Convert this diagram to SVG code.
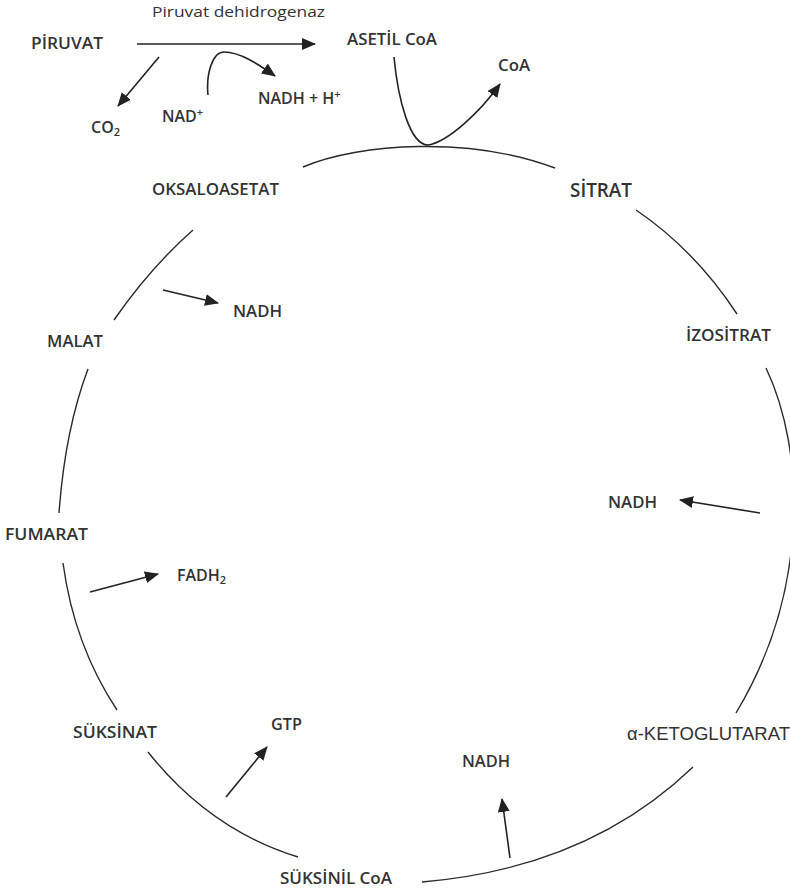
<svg xmlns="http://www.w3.org/2000/svg" width="790" height="890" viewBox="0 0 790 890">
<defs>
<marker id="ah" markerUnits="userSpaceOnUse" markerWidth="14" markerHeight="12" viewBox="0 0 14 12" refX="13" refY="6" orient="auto">
<path d="M0,0 L14,6 L0,12 z" fill="#222"/>
</marker>
<style>
.lbl{font-family:"Open Sans","Noto Sans","Liberation Sans",sans-serif;font-weight:600;font-size:16px;fill:#333}
.lg{font-size:19px}
.sm{font-size:15px;font-weight:400}
.ar{font-family:"Liberation Sans",Arial,sans-serif;font-weight:400;font-size:18px;fill:#333}
.cyc{fill:none;stroke:#2a2a2a;stroke-width:1.4}
.arr{fill:none;stroke:#222;stroke-width:1.6;marker-end:url(#ah)}
</style>
</defs>
<rect width="790" height="890" fill="#fff"/>
<g id="connectors">
<path class="arr" d="M137,44 L315,44"/>
<path class="arr" d="M159,57 L118,106"/>
<path class="arr" d="M208,95 C206,75 212,52 224,52 C240,52 258,64 275,76"/>
<path class="arr" d="M394,57 C398,100 410,145 428,145 C448,142 480,112 500,84"/>
<path class="cyc" d="M303,167 C360,143 470,136 555,168"/>
<path class="cyc" d="M636,210 Q695,250 737,314"/>
<path class="cyc" d="M766,368 C805,450 810,590 736,713"/>
<path class="cyc" d="M693,767 Q588,868 422,882"/>
<path class="cyc" d="M298,857 Q210,830 148,752"/>
<path class="cyc" d="M117,710 Q74,645 63,563"/>
<path class="cyc" d="M59,513 Q65,430 88,369"/>
<path class="cyc" d="M114,320 Q150,268 193,230"/>
<path class="arr" d="M163,290 L218,303"/>
<path class="arr" d="M760,513 L680,500"/>
<path class="arr" d="M90,592 L158,574"/>
<path class="arr" d="M226,797 L267,747"/>
<path class="arr" d="M510,858 L502,799"/>
</g>
<g id="enzyme"><text class="lbl sm" x="152" y="17" textLength="173" lengthAdjust="spacingAndGlyphs">Piruvat dehidrogenaz</text></g>
<g id="piruvat"><text class="lbl" x="31" y="49" textLength="72" lengthAdjust="spacingAndGlyphs">PİRUVAT</text></g>
<g id="asetilcoa"><text class="lbl" x="347" y="45" textLength="90" lengthAdjust="spacingAndGlyphs">ASETİL CoA</text></g>
<g id="co2"><text class="lbl" x="91" y="133">CO<tspan font-size="11" dy="3">2</tspan></text></g>
<g id="nadplus"><text class="lbl" x="162" y="122">NAD<tspan font-size="11" dy="-6">+</tspan></text></g>
<g id="nadhh"><text class="lbl" x="258" y="104">NADH + H<tspan font-size="11" dy="-6">+</tspan></text></g>
<g id="coa"><text class="lbl" x="498" y="71" textLength="32" lengthAdjust="spacingAndGlyphs">CoA</text></g>
<g id="sitrat"><text class="lbl lg" x="570" y="197" textLength="62" lengthAdjust="spacingAndGlyphs">SİTRAT</text></g>
<g id="oksaloasetat"><text class="lbl" x="152" y="195" textLength="127" lengthAdjust="spacingAndGlyphs">OKSALOASETAT</text></g>
<g id="nadh1"><text class="lbl" x="233" y="317" textLength="49" lengthAdjust="spacingAndGlyphs">NADH</text></g>
<g id="malat"><text class="lbl" x="47" y="347" textLength="56" lengthAdjust="spacingAndGlyphs">MALAT</text></g>
<g id="izositrat"><text class="lbl" x="686" y="341" textLength="85" lengthAdjust="spacingAndGlyphs">İZOSİTRAT</text></g>
<g id="nadh2"><text class="lbl" x="608" y="508" textLength="49" lengthAdjust="spacingAndGlyphs">NADH</text></g>
<g id="fumarat"><text class="lbl" x="5" y="540" textLength="83" lengthAdjust="spacingAndGlyphs">FUMARAT</text></g>
<g id="fadh2"><text class="lbl" x="177" y="581">FADH<tspan font-size="11" dy="3">2</tspan></text></g>
<g id="suksinat"><text class="lbl" x="73" y="738" textLength="84" lengthAdjust="spacingAndGlyphs">SÜKSİNAT</text></g>
<g id="gtp"><text class="lbl" x="271" y="730" textLength="31" lengthAdjust="spacingAndGlyphs">GTP</text></g>
<g id="ketoglutarat"><text class="ar" x="627" y="740" textLength="163" lengthAdjust="spacingAndGlyphs">α-KETOGLUTARAT</text></g>
<g id="nadh3"><text class="lbl" x="462" y="767" textLength="48" lengthAdjust="spacingAndGlyphs">NADH</text></g>
<g id="suksinilcoa"><text class="lbl" x="280" y="884" textLength="112" lengthAdjust="spacingAndGlyphs">SÜKSİNİL CoA</text></g>
</svg>
